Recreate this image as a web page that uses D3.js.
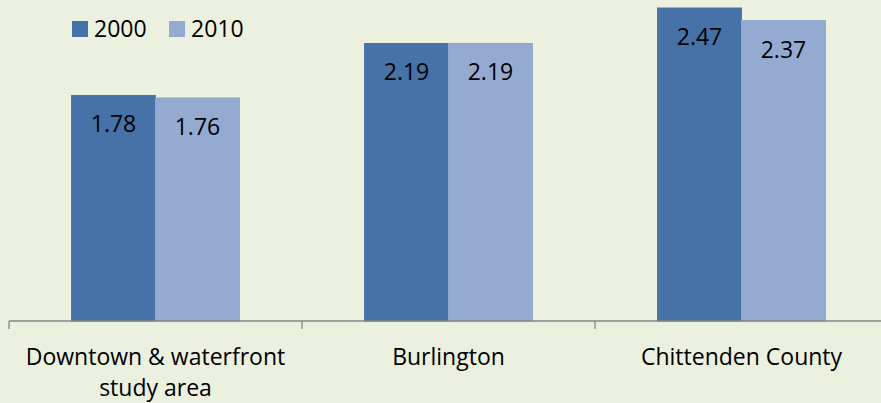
<!DOCTYPE html>
<meta charset="utf-8">
<head>
<style>
body { margin: 0; background: #EBF1DE; }
svg { display: block; font-family: "Open Sans", sans-serif; }
.xaxis path { stroke: #868686; }
.xaxis line { stroke: #868686; }
</style>
</head>
<body>
<div id="chart"></div>
<script src="https://cdnjs.cloudflare.com/ajax/libs/d3/7.8.5/d3.min.js"></script>
<script>
// data
var categories = ["Downtown & waterfront study area", "Burlington", "Chittenden County"];
var categoryLines = [["Downtown & waterfront", "study area"], ["Burlington"], ["Chittenden County"]];
var seriesNames = ["2000", "2010"];
var values2000 = [1.78, 2.19, 2.47];
var values2010 = [1.76, 2.19, 2.37];
var colors = ["#4672A7", "#95AAD1"];

var width = 881, height = 403;
var axisY = 321;

var svg = d3.select("#chart").append("svg")
    .attr("width", width)
    .attr("height", height);

svg.append("rect").attr("width", width).attr("height", height).attr("fill", "#EBF1DE");

// scales
var x0 = d3.scaleBand().domain(categories).range([9, 888]).padding(0);
var groupW = x0.bandwidth() * 0.573;
var x1 = d3.scaleBand().domain(seriesNames).range([0, groupW]);
var y = d3.scaleLinear().domain([0, 2.5]).range([axisY, axisY - 316.8]);

var rows = categories.map(function (c, i) {
  return { cat: c, vals: [values2000[i], values2010[i]] };
});

// bars
var groups = svg.selectAll(".grp")
    .data(rows)
    .enter().append("g")
    .attr("class", "grp")
    .attr("transform", function (d) { return "translate(" + (x0(d.cat) + (x0.bandwidth() - groupW) / 2) + ",0)"; });

groups.selectAll("rect")
    .data(function (d) { return d.vals.map(function (v, j) { return { s: seriesNames[j], v: v, j: j }; }); })
    .enter().append("rect")
    .attr("x", function (d) { return x1(d.s); })
    .attr("y", function (d) { return y(d.v); })
    .attr("width", x1.bandwidth())
    .attr("height", function (d) { return axisY - y(d.v); })
    .attr("fill", function (d) { return colors[d.j]; })
    .attr("stroke", function (d) { return d.j === 0 ? "#4A76AB" : "#8FA7D0"; })
    .attr("stroke-width", 1);

// value labels
groups.selectAll("text")
    .data(function (d) { return d.vals.map(function (v, j) { return { s: seriesNames[j], v: v }; }); })
    .enter().append("text")
    .attr("x", function (d) { return x1(d.s) + x1.bandwidth() / 2; })
    .attr("y", function (d) { return y(d.v) + 37; })
    .attr("text-anchor", "middle")
    .style("font-size", "23px")
    .attr("fill", "#000")
    .text(function (d) { return d3.format(".2f")(d.v); });

// x axis line + ticks between categories
var xAxis = d3.axisBottom(x0).tickSize(0).tickFormat("");
svg.append("g")
    .attr("class", "xaxis")
    .attr("transform", "translate(0," + axisY + ")")
    .call(xAxis)
    .select(".domain").attr("d", "M9,0H888").attr("stroke-width", 1.3);

var bounds = categories.map(function (c) { return x0(c); }).concat([x0.range()[1]]);
svg.selectAll(".btick")
    .data(bounds)
    .enter().append("line")
    .attr("class", "btick")
    .attr("x1", function (d) { return d; })
    .attr("x2", function (d) { return d; })
    .attr("y1", axisY)
    .attr("y2", axisY + 8)
    .attr("stroke", "#868686")
    .attr("stroke-width", 1.3);

// category labels
var catLabels = svg.selectAll(".cat")
    .data(categories)
    .enter().append("text")
    .attr("class", "cat")
    .attr("text-anchor", "middle")
    .style("font-size", "23px")
    .attr("fill", "#000");

catLabels.each(function (c, i) {
  var t = d3.select(this);
  categoryLines[i].forEach(function (line, k) {
    t.append("tspan")
      .attr("x", x0(c) + x0.bandwidth() / 2)
      .attr("y", axisY + 44 + k * 31)
      .text(line);
  });
});

// legend
var legend = svg.selectAll(".leg")
    .data(seriesNames)
    .enter().append("g")
    .attr("class", "leg")
    .attr("transform", function (d, i) { return "translate(" + (72 + i * 97) + ",21)"; });

legend.append("rect")
    .attr("width", 16)
    .attr("height", 16)
    .attr("fill", function (d, i) { return colors[i]; });

legend.append("text")
    .attr("x", 22)
    .attr("y", 16)
    .style("font-size", "23px")
    .attr("fill", "#000")
    .text(function (d) { return d; });
</script>
</body>
